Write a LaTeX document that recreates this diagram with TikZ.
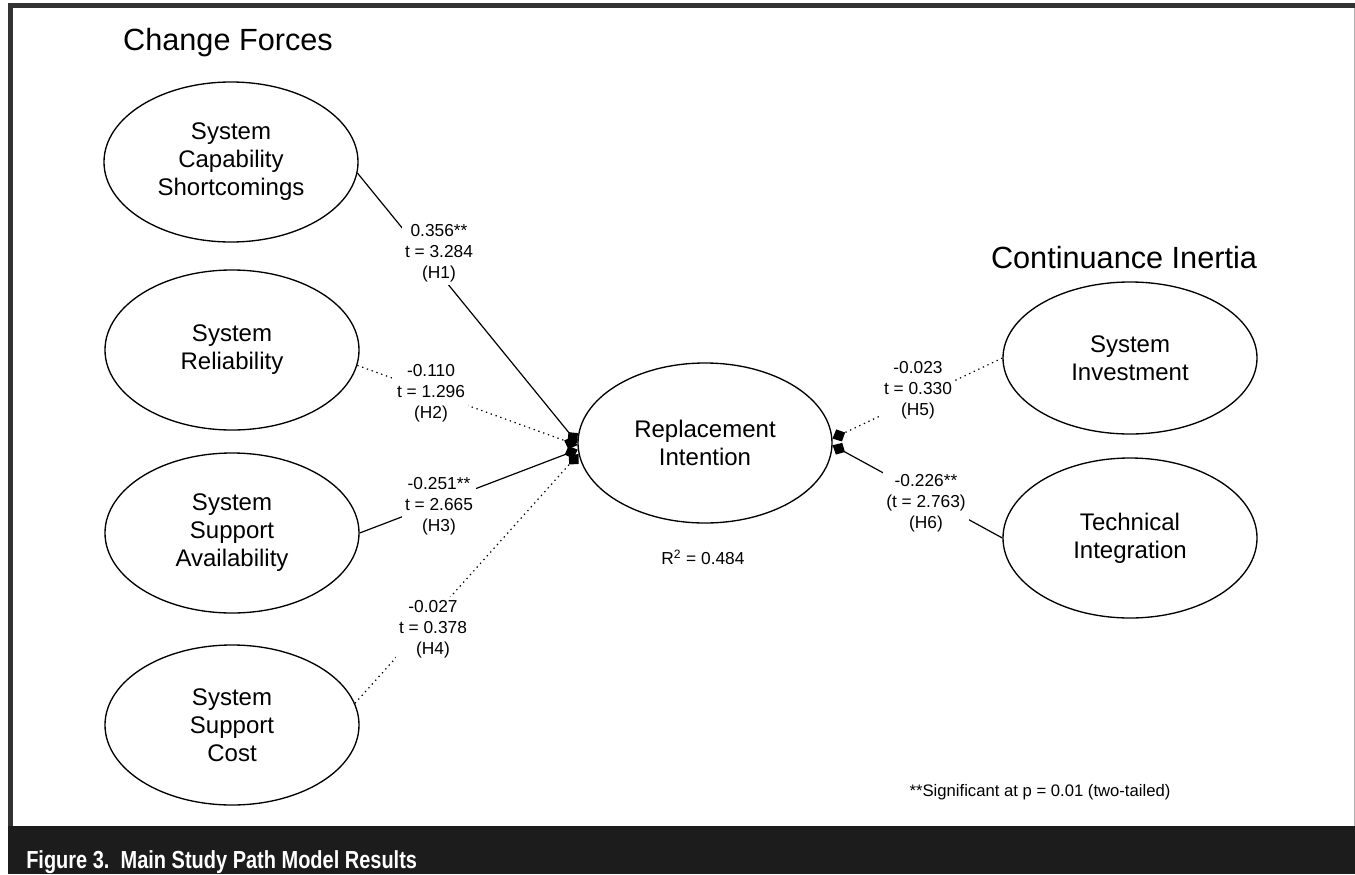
\documentclass[tikz,border=0pt]{standalone}
\usepackage{fontspec}
\setmainfont{Liberation Sans}
\newfontfamily\capfont[FakeStretch=0.81]{Liberation Sans}
\usetikzlibrary{shapes.geometric,arrows.meta}
\definecolor{framegray}{HTML}{333333}
\definecolor{bandblack}{HTML}{1C1C1C}
\begin{document}
\begin{tikzpicture}[x=0.75pt,y=-0.75pt,
  construct/.style={draw, ellipse, line width=1pt, minimum width=190.5pt, minimum height=120pt,
    inner sep=0pt, align=center, font=\fontsize{18}{21}\selectfont},
  coef/.style={fill=white, inner sep=2.5pt, align=center, font=\fontsize{13}{15.75}\selectfont},
  tipstyle/.style={-{Kite[length=10.5pt,width=10pt,inset=5pt]}},
  sig/.style={line width=0.9pt, tipstyle},
  nonsig/.style={line width=0.9pt, dash pattern=on 1pt off 2.8pt, tipstyle},
  heading/.style={font=\fontsize{23}{27}\selectfont},
  note/.style={font=\fontsize{12.5}{15}\selectfont}]
\useasboundingbox (0,0) rectangle (1355,874);
\fill[white] (0,0) rectangle (1355,874);
% frame
\fill[framegray] (8,3) rectangle (1355,8);
\fill[framegray] (8,3) rectangle (13,826);
\fill[gray!60] (1353.5,8) rectangle (1355,826);
\fill[bandblack] (8,826) rectangle (1355,874);
\node[anchor=base west, text=white, inner sep=0pt, font=\capfont\bfseries\fontsize{18.5}{20}\selectfont] (cap) at (26,868) {Figure 3.\ \ Main Study Path Model Results};
% headings
\node[heading] (cf) at (228,43) {Change Forces};
\node[heading] (ci) at (1124,258) {Continuance Inertia};
% constructs
\node[construct] (scs) at (231,162) {System\\Capability\\Shortcomings};
\node[construct] (rel) at (232,350) {System\\Reliability};
\node[construct] (avl) at (232,533) {System\\Support\\Availability};
\node[construct] (cost) at (232,725) {System\\Support\\Cost};
\node[construct] (ri) at (705,443) {Replacement\\Intention};
\node[construct, minimum height=114pt] (inv) at (1130,358) {System\\Investment};
\node[construct] (ti) at (1130,538) {Technical\\Integration};
% paths
\draw[sig] (scs.-5) -- (ri.west);
\draw[nonsig] (rel.-7) -- (ri.181);
\draw[sig] (avl.east) -- (ri.183);
\draw[nonsig] (cost.10) -- (ri.185);
\draw[nonsig] (inv.west) -- (ri.2);
\draw[sig] (ti.west) -- (ri.-1);
% coefficients
\node[coef] (h1) at (439,253) {0.356**\\t = 3.284\\(H1)};
\node[coef] (h2) at (431,393) {-0.110\\t = 1.296\\(H2)};
\node[coef] (h3) at (439,506) {-0.251**\\t = 2.665\\(H3)};
\node[coef] (h4) at (433,629) {-0.027\\t = 0.378\\(H4)};
\node[coef] (h5) at (918,390) {-0.023\\t = 0.330\\(H5)};
\node[coef] (h6) at (926,503) {-0.226**\\(t = 2.763)\\(H6)};
\node[coef] (r2) at (703,557) {R\textsuperscript{2} = 0.484};
\node[note] (fn) at (1040,792) {**Significant at p = 0.01 (two-tailed)};
\end{tikzpicture}
\end{document}
